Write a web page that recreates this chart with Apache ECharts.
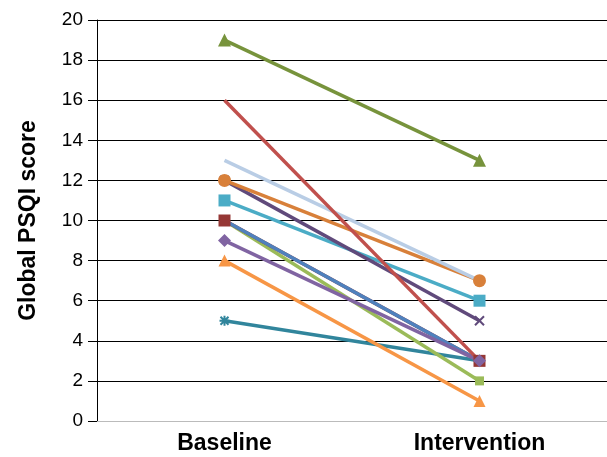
<!DOCTYPE html>
<html><head><meta charset="utf-8">
<script src="https://cdn.jsdelivr.net/npm/echarts@6/dist/echarts.min.js"></script>
<style>html,body{margin:0;padding:0;background:#fff}#c{width:607px;height:457px}</style>
</head><body><div id="c"></div>
<script>
const categories = ['Baseline', 'Intervention'];
const yTicks = [0, 20, 2];
const s1 = [19, 13];
const s2 = [16, 3];
const s3 = [13, 7];
const s4 = [12, 7];
const s5 = [12, 5];
const s6 = [11, 6];
const s7 = [10, 3];
const s8 = [10, 3];
const s9 = [10, 2];
const s10 = [9, 3];
const s11 = [8, 1];
const s12 = [5, 3];

const seriesDefs = [
  {data: s12, color: '#31859C', symbol: 'path://M0,5L10,5M5,0L5,10M1,1L9,9M9,1L1,9', size: 10},
  {data: s11, color: '#F79646', symbol: 'triangle', size: 12},
  {data: s9, color: '#9BBB59', symbol: 'rect', size: 9, hideFirst: true},
  {data: s7, color: '#953735', symbol: 'rect', size: 12},
  {data: s8, color: '#4F81BD', symbol: 'none', size: 0},
  {data: s10, color: '#8064A2', symbol: 'diamond', size: 13},
  {data: s6, color: '#4BACC6', symbol: 'rect', size: 12},
  {data: s5, color: '#604A7B', symbol: 'path://M0,0L10,10M10,0L0,10', size: 9},
  {data: s4, color: '#D8803A', symbol: 'circle', size: 13},
  {data: s3, color: '#B9CDE5', symbol: 'none', size: 0},
  {data: s2, color: '#C0504D', symbol: 'none', size: 0},
  {data: s1, color: '#77933C', symbol: 'triangle', size: 13}
];

const chart = echarts.init(document.getElementById('c'), null, {renderer: 'canvas'});
chart.setOption({
  animation: false,
  grid: {left: 97, top: 20, width: 517, height: 401, containLabel: false},
  xAxis: {
    type: 'category', data: categories, boundaryGap: true,
    axisLine: {show: true, lineStyle: {color: '#bbbbbb', width: 1}},
    axisTick: {show: false},
    axisLabel: {color: '#000', fontFamily: 'Liberation Sans, Arial, sans-serif', fontWeight: 'bold', fontSize: 23, margin: 11}
  },
  yAxis: {
    type: 'value', min: yTicks[0], max: yTicks[1], interval: yTicks[2],
    name: 'Global PSQI score', nameLocation: 'middle', nameGap: 57, nameRotate: 90,
    nameTextStyle: {color: '#000', fontFamily: 'Liberation Sans, Arial, sans-serif', fontWeight: 'bold', fontSize: 23},
    axisLine: {show: true, lineStyle: {color: '#000', width: 1}},
    axisTick: {show: true, length: 9, lineStyle: {color: '#000'}},
    axisLabel: {color: '#000', fontFamily: 'Liberation Sans, Arial, sans-serif', fontSize: 19, margin: 14},
    splitLine: {show: true, lineStyle: {color: '#000', width: 1}}
  },
  series: seriesDefs.map(d => ({
    type: 'line',
    data: d.data.map((v, i) => (d.hideFirst && i === 0) ? {value: v, symbol: 'none'} : v),
    symbol: d.symbol, symbolSize: d.size, showSymbol: d.symbol !== 'none',
    lineStyle: {color: d.color, width: 3.5},
    itemStyle: {color: d.color, borderColor: d.color, borderWidth: d.symbol.startsWith('path') ? 2 : 0},
    emphasis: {disabled: true}
  }))
});
</script></body></html>
